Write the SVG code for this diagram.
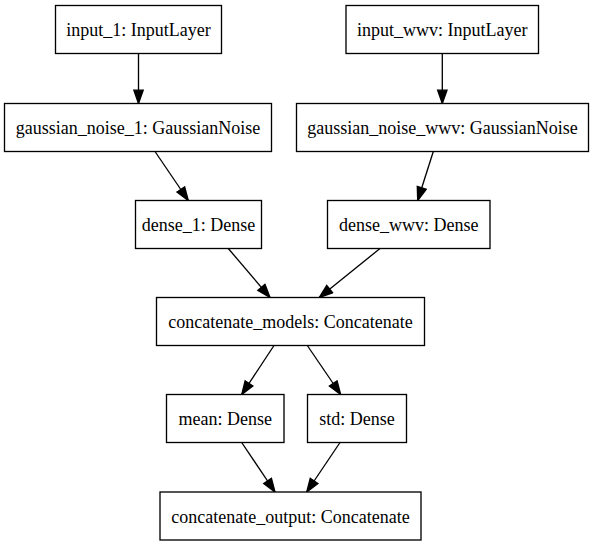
<svg xmlns="http://www.w3.org/2000/svg" width="595" height="547" viewBox="0 0 595 547">
<style>
.box{fill:#fff;stroke:#000;stroke-width:1.33}
.lbl{font-family:"Liberation Serif","Times New Roman",serif;font-size:18px;text-anchor:middle;fill:#000}
.edge{stroke:#000;stroke-width:1.33;fill:none;marker-end:url(#arr)}
</style>
<defs>
<marker id="arr" markerUnits="userSpaceOnUse" markerWidth="16" markerHeight="12" viewBox="-1 -1 16 12" refX="13.3" refY="4.67" orient="auto">
<path d="M0,0 L13.3,4.67 L0,9.33 Z" fill="#000" stroke="#000" stroke-width="1.33"/>
</marker>
</defs>
<rect width="595" height="547" fill="#fff"/>
<g id="connectors">
<line class="edge" x1="138.5" y1="53.5" x2="138.5" y2="103.5"/>
<line class="edge" x1="442.3" y1="53.5" x2="442.3" y2="103.5"/>
<line class="edge" x1="155" y1="151.5" x2="188.3" y2="200.5"/>
<line class="edge" x1="433.3" y1="151.5" x2="417.7" y2="200.5"/>
<line class="edge" x1="228.3" y1="248.5" x2="270" y2="297.5"/>
<line class="edge" x1="380" y1="248.5" x2="319.3" y2="297.5"/>
<line class="edge" x1="274" y1="345.5" x2="241.7" y2="394.5"/>
<line class="edge" x1="307.3" y1="345.5" x2="340.7" y2="394.5"/>
<line class="edge" x1="241.7" y1="442.5" x2="275" y2="492"/>
<line class="edge" x1="340" y1="442.5" x2="306.7" y2="492"/>
</g>
<g id="input_1"><rect class="box" x="55.5" y="5.5" width="166" height="48"/><text class="lbl" x="138.5" y="35.5">input_1: InputLayer</text></g>
<g id="input_wwv"><rect class="box" x="346" y="5.5" width="192.5" height="48"/><text class="lbl" x="442.3" y="35.5">input_wwv: InputLayer</text></g>
<g id="gaussian_noise_1"><rect class="box" x="4.5" y="103.5" width="267" height="48"/><text class="lbl" x="138" y="134">gaussian_noise_1: GaussianNoise</text></g>
<g id="gaussian_noise_wwv"><rect class="box" x="296.5" y="103.5" width="292" height="48"/><text class="lbl" x="442.5" y="134">gaussian_noise_wwv: GaussianNoise</text></g>
<g id="dense_1"><rect class="box" x="135.5" y="200.5" width="126" height="48"/><text class="lbl" x="198.5" y="231">dense_1: Dense</text></g>
<g id="dense_wwv"><rect class="box" x="327.5" y="200.5" width="162.5" height="48"/><text class="lbl" x="408.7" y="231">dense_wwv: Dense</text></g>
<g id="concatenate_models"><rect class="box" x="156.5" y="297.5" width="268" height="48"/><text class="lbl" x="290.5" y="328">concatenate_models: Concatenate</text></g>
<g id="mean"><rect class="box" x="166.5" y="394.5" width="117.5" height="48"/><text class="lbl" x="225.2" y="425">mean: Dense</text></g>
<g id="std"><rect class="box" x="307.5" y="394.5" width="99" height="48"/><text class="lbl" x="357" y="425">std: Dense</text></g>
<g id="concatenate_output"><rect class="box" x="160" y="492" width="261" height="48"/><text class="lbl" x="290.5" y="522.5">concatenate_output: Concatenate</text></g>
</svg>
